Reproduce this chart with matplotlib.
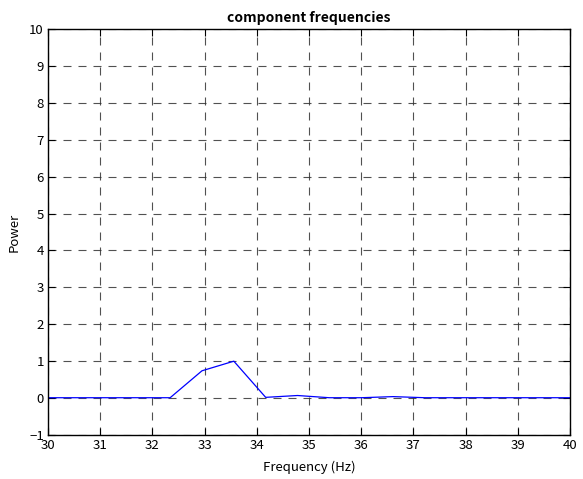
import numpy as np
import matplotlib
matplotlib.use("Agg")
import matplotlib.pyplot as plt

plt.rcParams['font.family'] = ['Noto Sans CJK JP', 'DejaVu Sans']

# Spectrum samples (frequency bins in Hz and their power)
freqs = [29.90, 30.51, 31.12, 31.73, 32.34, 32.95, 33.56, 34.17, 34.78,
         35.39, 36.00, 36.61, 37.22, 37.83, 38.44, 39.05, 39.66, 40.27]
power = [0.01, 0.01, 0.01, 0.01, 0.01, 0.74, 1.00, 0.02, 0.07,
         0.01, 0.01, 0.04, 0.01, 0.01, 0.01, 0.01, 0.01, 0.01]

xticks = list(range(30, 41))
yticks = list(range(-1, 11))

fig = plt.figure(figsize=(5.83, 4.79), dpi=100)
ax = fig.add_axes([48 / 583, 1 - 435 / 479, (570 - 48) / 583, (435 - 29) / 479])

ax.plot(freqs, power, color=(0, 0, 1), linewidth=0.9)

ax.set_xlim(30, 40)
ax.set_ylim(-1, 10)
ax.set_xticks(xticks)
ax.set_yticks(yticks)
ax.tick_params(direction='in', top=True, right=True, length=5, width=0.8,
               labelsize=9.5, pad=3)
ax.grid(True, color='#333333', linestyle=(0, (7.2, 6.3)), linewidth=0.8, alpha=0.85)
for s in ax.spines.values():
    s.set_linewidth(1.0)

ax.set_title('component frequencies', fontsize=10, fontweight='bold', pad=5)
ax.set_xlabel('Frequency (Hz)', fontsize=9.5, labelpad=6)
ax.set_ylabel('Power', fontsize=9.5, labelpad=6)

fig.savefig('out.png', dpi=100)
